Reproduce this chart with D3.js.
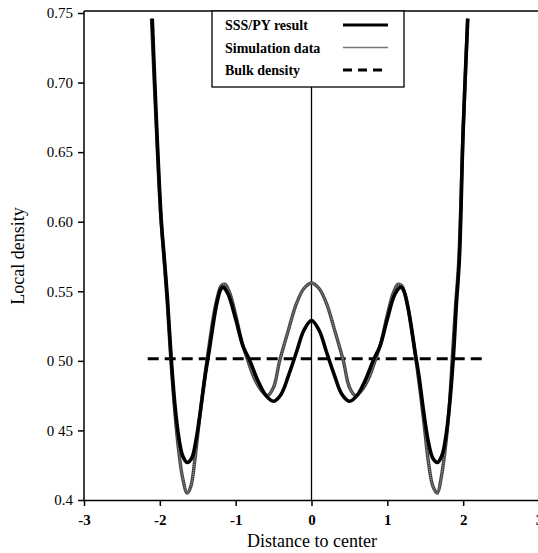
<!DOCTYPE html>
<html>
<head>
<meta charset="utf-8">
<script src="https://d3js.org/d3.v7.min.js"></script>
<style>
  html, body { margin: 0; padding: 0; background: #fff; }
  svg { display: block; }
  svg text { font-family: "Liberation Serif", "Times New Roman", Times, serif !important; fill: #000; }
</style>
</head>
<body>
<svg id="chart" width="538" height="553"></svg>
<script>
// 坐标轴刻度
const xTicks = [-3, -2, -1, 0, 1, 2, 3];
const yTicks = [0.4, 0.45, 0.5, 0.55, 0.6, 0.65, 0.7, 0.75];
const yTickLabels = ["0.4", "0 45", "0 50", "0.55", "0.60", "0.65", "0.70", "0.75"];

// SSS/PY 结果
const pyX = [-2.10, -2.04, -1.98, -1.94, -1.90, -1.85, -1.80, -1.75, -1.70, -1.64, -1.58, -1.52, -1.46,
  -1.40, -1.35, -1.30, -1.25, -1.20, -1.17, -1.10, -1.00, -0.90, -0.82, -0.70, -0.60, -0.50, -0.40,
  -0.30, -0.20, -0.10, 0, 0.10, 0.20, 0.30, 0.40, 0.50, 0.60, 0.70, 0.82, 0.90, 1.00, 1.10, 1.18,
  1.22, 1.27, 1.32, 1.37, 1.42, 1.48, 1.54, 1.60, 1.66, 1.72, 1.77, 1.82, 1.87, 1.91, 1.95, 2.00, 2.06];
const pyDensity = [0.746, 0.666, 0.600, 0.573, 0.545, 0.502, 0.468, 0.445, 0.432, 0.427, 0.430, 0.444, 0.466,
  0.490, 0.507, 0.525, 0.541, 0.551, 0.553, 0.548, 0.530, 0.510, 0.501, 0.485, 0.475, 0.471, 0.476,
  0.490, 0.506, 0.522, 0.529, 0.522, 0.506, 0.490, 0.476, 0.471, 0.475, 0.485, 0.501, 0.510, 0.530, 0.548, 0.553,
  0.550, 0.539, 0.523, 0.505, 0.488, 0.463, 0.442, 0.430, 0.427, 0.432, 0.445, 0.468, 0.502, 0.540, 0.573, 0.666, 0.746];

// 模拟数据
const simX = [-2.11, -2.05, -1.99, -1.94, -1.90, -1.86, -1.80, -1.75, -1.70, -1.64, -1.59, -1.54, -1.49,
  -1.44, -1.39, -1.34, -1.29, -1.24, -1.19, -1.14, -1.08, -1.00, -0.92, -0.85, -0.75, -0.65, -0.58,
  -0.50, -0.42, -0.30, -0.20, -0.10, 0, 0.10, 0.20, 0.30, 0.42, 0.50, 0.58, 0.65, 0.75, 0.85, 0.92,
  1.00, 1.08, 1.14, 1.19, 1.24, 1.29, 1.34, 1.39, 1.44, 1.49, 1.54, 1.60, 1.66, 1.71, 1.76, 1.81,
  1.86, 1.90, 1.94, 2.00, 2.06];
const simDensity = [0.746, 0.672, 0.606, 0.570, 0.540, 0.505, 0.462, 0.435, 0.416, 0.405, 0.410, 0.428, 0.452,
  0.475, 0.496, 0.515, 0.533, 0.546, 0.554, 0.555, 0.549, 0.533, 0.514, 0.502, 0.487, 0.478, 0.475,
  0.481, 0.500, 0.523, 0.541, 0.552, 0.556, 0.552, 0.541, 0.523, 0.500, 0.481, 0.475, 0.478, 0.487, 0.502, 0.514,
  0.533, 0.549, 0.555, 0.554, 0.546, 0.533, 0.515, 0.496, 0.475, 0.452, 0.428, 0.410, 0.405, 0.416, 0.435, 0.462,
  0.505, 0.540, 0.570, 0.666, 0.746];

// 体相密度
const bulkX = [-2.16, 2.31];
const bulkDensity = 0.5015;

// 图例
const legendLabels = ["SSS/PY result", "Simulation data", "Bulk density"];

const FONT = '"Liberation Serif", "Times New Roman", Times, serif';
const svg = d3.select("#chart");

const x = d3.scaleLinear().domain([-3, 3]).range([84, 539]);
const y = d3.scaleLinear().domain([0.4, 0.75]).range([500, 13]);

// 顶部边框
svg.append("line")
  .attr("x1", 84).attr("x2", 538)
  .attr("y1", 11).attr("y2", 11)
  .attr("stroke", "#000").attr("stroke-width", 1.5);

// 坐标轴
const xAxis = svg.append("g")
  .attr("transform", "translate(0,500)")
  .call(d3.axisBottom(x).tickValues(xTicks).tickSize(6).tickSizeOuter(0).tickFormat(d => String(d)));
xAxis.attr("font-family", FONT);
xAxis.select(".domain").attr("stroke-width", 1.5);
xAxis.selectAll(".tick line").attr("stroke-width", 1.5);
xAxis.selectAll(".tick text")
  .attr("dy", "1.05em")
  .style("font-size", "15px").style("font-weight", "bold");

const yAxis = svg.append("g")
  .attr("transform", "translate(84,0)")
  .call(d3.axisLeft(y).tickValues(yTicks).tickSize(6).tickSizeOuter(0)
    .tickFormat((d, i) => yTickLabels[i]));
yAxis.attr("font-family", FONT);
yAxis.select(".domain").attr("d", "M0,11V500").attr("stroke-width", 1.5);
yAxis.selectAll(".tick line").attr("stroke-width", 1.5);
yAxis.selectAll(".tick text")
  .attr("x", -11)
  .style("font-size", "15px");

// 轴标题
svg.append("text")
  .attr("x", 312).attr("y", 547)
  .attr("text-anchor", "middle")
  .style("font-size", "18px")
  .text("Distance to center");

svg.append("text")
  .attr("transform", "translate(24,256) rotate(-90)")
  .attr("text-anchor", "middle")
  .style("font-size", "18px")
  .text("Local density");

// 中心竖线
svg.append("line")
  .attr("x1", x(0)).attr("x2", x(0))
  .attr("y1", 11).attr("y2", 500)
  .attr("stroke", "#000").attr("stroke-width", 1.3);

const line = d3.line().curve(d3.curveCatmullRom.alpha(0.5));

// 体相密度虚线
svg.append("line")
  .attr("x1", x(bulkX[0])).attr("x2", x(bulkX[1]))
  .attr("y1", y(bulkDensity)).attr("y2", y(bulkDensity))
  .attr("stroke", "#000").attr("stroke-width", 3)
  .attr("stroke-dasharray", "11,6");

// 模拟数据曲线
const simPts = simX.map((d, i) => [x(d), y(simDensity[i])]);
svg.append("path")
  .attr("d", line(simPts))
  .attr("fill", "none")
  .attr("stroke", "#444")
  .attr("stroke-width", 3.4);
svg.append("path")
  .attr("d", line(simPts))
  .attr("fill", "none")
  .attr("stroke", "#999")
  .attr("stroke-width", 1.2)
  .attr("stroke-dasharray", "1,1");

// SSS/PY 曲线
svg.append("path")
  .attr("d", line(pyX.map((d, i) => [x(d), y(pyDensity[i])])))
  .attr("fill", "none")
  .attr("stroke", "#000")
  .attr("stroke-width", 3.6);

// 图例
const legend = svg.append("g");
legend.append("rect")
  .attr("x", 212).attr("y", 11)
  .attr("width", 192).attr("height", 76)
  .attr("fill", "#fff").attr("stroke", "#000").attr("stroke-width", 1.3);

legendLabels.forEach((label, i) => {
  const ly = 25 + i * 22.5;
  legend.append("text")
    .attr("x", 225).attr("y", ly + 5)
    .style("font-size", "14px").style("font-weight", "bold")
    .text(label);
  const sample = legend.append("line")
    .attr("x1", 343).attr("x2", 388)
    .attr("y1", ly).attr("y2", ly);
  if (i === 0) {
    sample.attr("stroke", "#000").attr("stroke-width", 3);
  } else if (i === 1) {
    sample.attr("stroke", "#777").attr("stroke-width", 1.6);
  } else {
    sample.attr("stroke", "#000").attr("stroke-width", 3).attr("stroke-dasharray", "9,6");
  }
});
</script>
</body>
</html>
